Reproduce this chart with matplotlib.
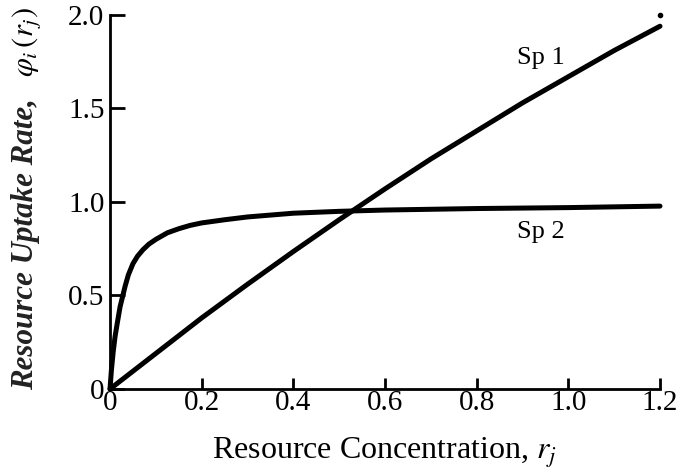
#!/usr/bin/env python3
"""Resource uptake rate of two species as a function of resource concentration."""

import matplotlib

matplotlib.use("Agg")
import matplotlib.pyplot as plt

# Species 1: nearly linear uptake
sp1_r = [0, 0.1, 0.2, 0.3, 0.4, 0.5, 0.6, 0.7, 0.8, 0.9, 1.0, 1.1, 1.2]
sp1_phi = [0, 0.19, 0.38, 0.56, 0.735, 0.905, 1.07, 1.23, 1.38, 1.53, 1.67, 1.81, 1.94]

# Species 2: saturating uptake
sp2_r = [0, 0.003, 0.007, 0.011, 0.015, 0.022, 0.033, 0.04, 0.05, 0.06, 0.072,
         0.085, 0.1, 0.125, 0.15, 0.175, 0.2, 0.25, 0.3, 0.4, 0.5, 0.6, 0.8,
         1.0, 1.2]
sp2_phi = [0, 0.1, 0.2, 0.28, 0.34, 0.44, 0.55, 0.61, 0.67, 0.71, 0.745,
           0.775, 0.80, 0.835, 0.857, 0.875, 0.888, 0.905, 0.92, 0.94, 0.95,
           0.957, 0.965, 0.97, 0.978]

x_ticks = [0, 0.2, 0.4, 0.6, 0.8, 1.0, 1.2]
x_tick_labels = ["0", "0.2", "0.4", "0.6", "0.8", "1.0", "1.2"]
y_ticks = [0, 0.5, 1.0, 1.5, 2.0]
y_tick_labels = ["0", "0.5", "1.0", "1.5", "2.0"]

plt.rcParams["font.family"] = ["Liberation Serif", "DejaVu Serif"]
plt.rcParams["mathtext.fontset"] = "stix"

fig = plt.figure(figsize=(6.85, 4.76), dpi=100)
ax = fig.add_axes([0.1606, 0.1828, 0.8029, 0.7857])

ax.plot(sp1_r, sp1_phi, color="black", lw=3.6, solid_capstyle="round",
        solid_joinstyle="round", clip_on=False)
ax.plot(sp2_r, sp2_phi, color="black", lw=3.6, solid_capstyle="round",
        solid_joinstyle="round", clip_on=False)
ax.plot([1.2], [2.0], "o", color="black", ms=3, clip_on=False)

ax.text(0.94, 1.77, "Sp 1", fontsize=19, ha="center", va="center")
ax.text(0.94, 0.84, "Sp 2", fontsize=19, ha="center", va="center")

ax.set_xlim(0, 1.2)
ax.set_ylim(0, 2.0)
ax.set_xticks(x_ticks)
ax.set_xticklabels(x_tick_labels)
ax.set_yticks(y_ticks)
ax.set_yticklabels(y_tick_labels)

for side in ("top", "right"):
    ax.spines[side].set_visible(False)
for side in ("left", "bottom"):
    ax.spines[side].set_linewidth(2.0)

ax.tick_params(axis="y", direction="in", length=11, width=2.0, labelsize=21, pad=4)
ax.tick_params(axis="x", direction="in", length=8, width=2.0, labelsize=21, pad=1)

ax.set_xlabel("Resource Concentration, $r_j$", fontsize=23, labelpad=14)

# y label: bold-italic words followed by the plain symbol
fig.text(0.038, 0.18, "Resource Uptake Rate,", rotation=90, fontsize=22.3,
         fontweight="bold", style="italic", color="#222222", ha="center", va="bottom")
fig.text(0.038, 0.985, r"$\varphi_i\,(r_j)$", rotation=90, fontsize=22,
         ha="center", va="top")

fig.savefig("out.png", dpi=100)
